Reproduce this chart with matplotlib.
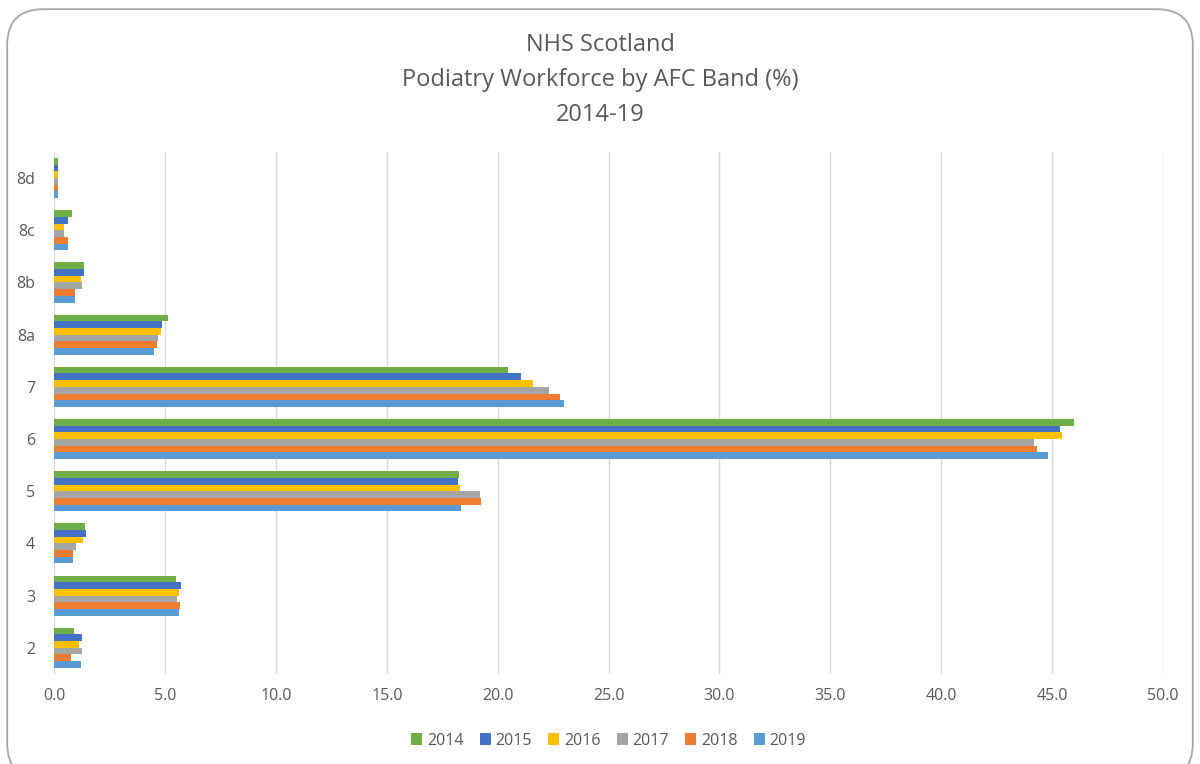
import numpy as np
import matplotlib
matplotlib.use("Agg")
import matplotlib.pyplot as plt
from matplotlib.patches import FancyBboxPatch

plt.rcParams['font.family'] = ['Open Sans', 'DejaVu Sans']

# AFC bands, bottom to top
bands = ["2", "3", "4", "5", "6", "7", "8a", "8b", "8c", "8d"]
years = ["2014", "2015", "2016", "2017", "2018", "2019"]

pct_2014 = [0.88, 5.49, 1.38, 18.26, 45.99, 20.47, 5.10, 1.32, 0.80, 0.16]
pct_2015 = [1.24, 5.72, 1.42, 18.21, 45.37, 21.03, 4.85, 1.33, 0.59, 0.15]
pct_2016 = [1.10, 5.62, 1.27, 18.30, 45.46, 21.57, 4.80, 1.19, 0.44, 0.15]
pct_2017 = [1.24, 5.54, 0.97, 19.19, 44.18, 22.32, 4.67, 1.24, 0.44, 0.15]
pct_2018 = [0.74, 5.65, 0.83, 19.24, 44.32, 22.80, 4.62, 0.92, 0.62, 0.15]
pct_2019 = [1.20, 5.60, 0.83, 18.35, 44.80, 22.98, 4.50, 0.94, 0.62, 0.15]

series = [pct_2014, pct_2015, pct_2016, pct_2017, pct_2018, pct_2019]
colors = ["#70AD47", "#4472C4", "#FFC000", "#A5A5A5", "#ED7D31", "#5B9BD5"]

fig = plt.figure(figsize=(12, 7.64), dpi=100)
ax = fig.add_axes([0.0454, 0.118, 0.9236, 0.683])

# rounded chart border
border = FancyBboxPatch((0.006, -0.02), 0.988, 1.008, boxstyle="round,pad=0,rounding_size=0.03",
                        transform=fig.transFigure, fill=False, edgecolor="#A6A6A6", linewidth=1.3,
                        mutation_aspect=1200 / 764)
fig.patches.append(border)

y = np.arange(len(bands))
h = 0.128
for i, (vals, col, yr) in enumerate(zip(series, colors, years)):
    off = (2.5 - i) * h
    ax.barh(y + off, vals, height=h, color=col, label=yr, zorder=3)

ax.set_xlim(0, 50)
ax.set_ylim(-0.5, len(bands) - 0.5)
ax.set_xticks(np.arange(0, 51, 5))
ax.set_xticklabels([f"{v:.1f}" for v in np.arange(0, 51, 5)])
ax.set_yticks(y)
ax.set_yticklabels(bands)
ax.tick_params(axis="both", length=0, labelsize=11.5, colors="#595959")
ax.tick_params(axis="x", pad=10)
ax.tick_params(axis="y", pad=14)
ax.grid(axis="x", color="#D9D9D9", linewidth=1, zorder=0)
for s in ax.spines.values():
    s.set_visible(False)

fig.text(0.5, 0.957, "NHS Scotland\nPodiatry Workforce by AFC Band (%)\n2014-19",
         ha="center", va="top", fontsize=17, color="#595959", linespacing=1.62)

ax.legend(loc="upper center", bbox_to_anchor=(0.5, -0.085), ncol=6, frameon=False,
          fontsize=11.5, labelcolor="#595959", handlelength=0.7, handleheight=0.7,
          handletextpad=0.3, columnspacing=1.0)

fig.savefig("out.png", dpi=100)
